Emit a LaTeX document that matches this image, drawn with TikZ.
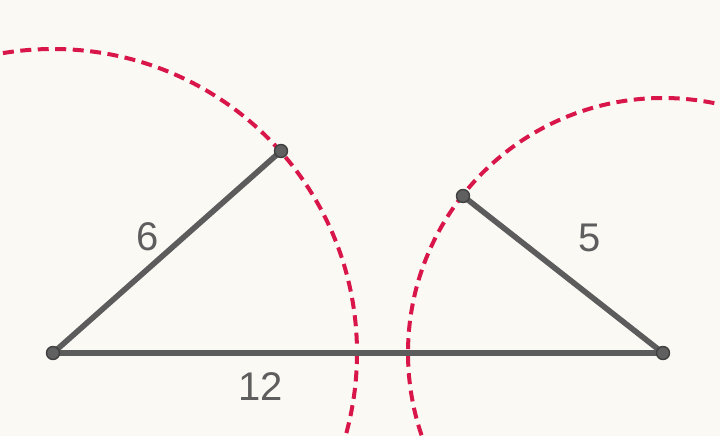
\documentclass[tikz,border=0pt]{standalone}
\usepackage{fontspec}
\setmainfont{Liberation Sans}
\definecolor{bgc}{HTML}{FBF9F4}
\definecolor{segc}{HTML}{5C5C5C}
\definecolor{ptc}{HTML}{606060}
\definecolor{circc}{HTML}{D9164A}
\definecolor{txtc}{HTML}{5E5E5E}
\tikzset{
  seg/.style={draw=segc, line width=5.6pt},
  pt/.style={circle, fill=ptc, draw=black!75, line width=1.4pt, minimum size=13pt, inner sep=0pt},
  circ/.style={draw=circc, line width=4pt, dash pattern=on 11pt off 6.5pt},
  lbl/.style={text=txtc, font=\fontsize{40}{40}\selectfont, inner sep=0pt}
}
\begin{document}
\begin{tikzpicture}[x=1pt,y=-1pt]
\fill[bgc] (0,0) rectangle (720,436);
\useasboundingbox (0,0) rectangle (720,436);
\begin{scope}
\clip (0,0) rectangle (720,436);
\draw[circ] (53,353) circle[radius=304];
\draw[circ] (663,353) circle[radius=255];
\end{scope}
\coordinate (a) at (53,353);
\coordinate (b) at (663,353);
\coordinate (c) at (281,151);
\coordinate (d) at (463,196);
\draw[seg] (a) -- (b);
\draw[seg] (a) -- (c);
\draw[seg] (b) -- (d);
\node[pt] (A) at (a) {};
\node[pt] (B) at (b) {};
\node[pt] (C) at (c) {};
\node[pt] (D) at (d) {};
\node[lbl] (l6) at (148,237) {6};
\node[lbl] (l5) at (590,238) {5};
\node[lbl] (l12) at (261,387) {12};
\end{tikzpicture}
\end{document}
